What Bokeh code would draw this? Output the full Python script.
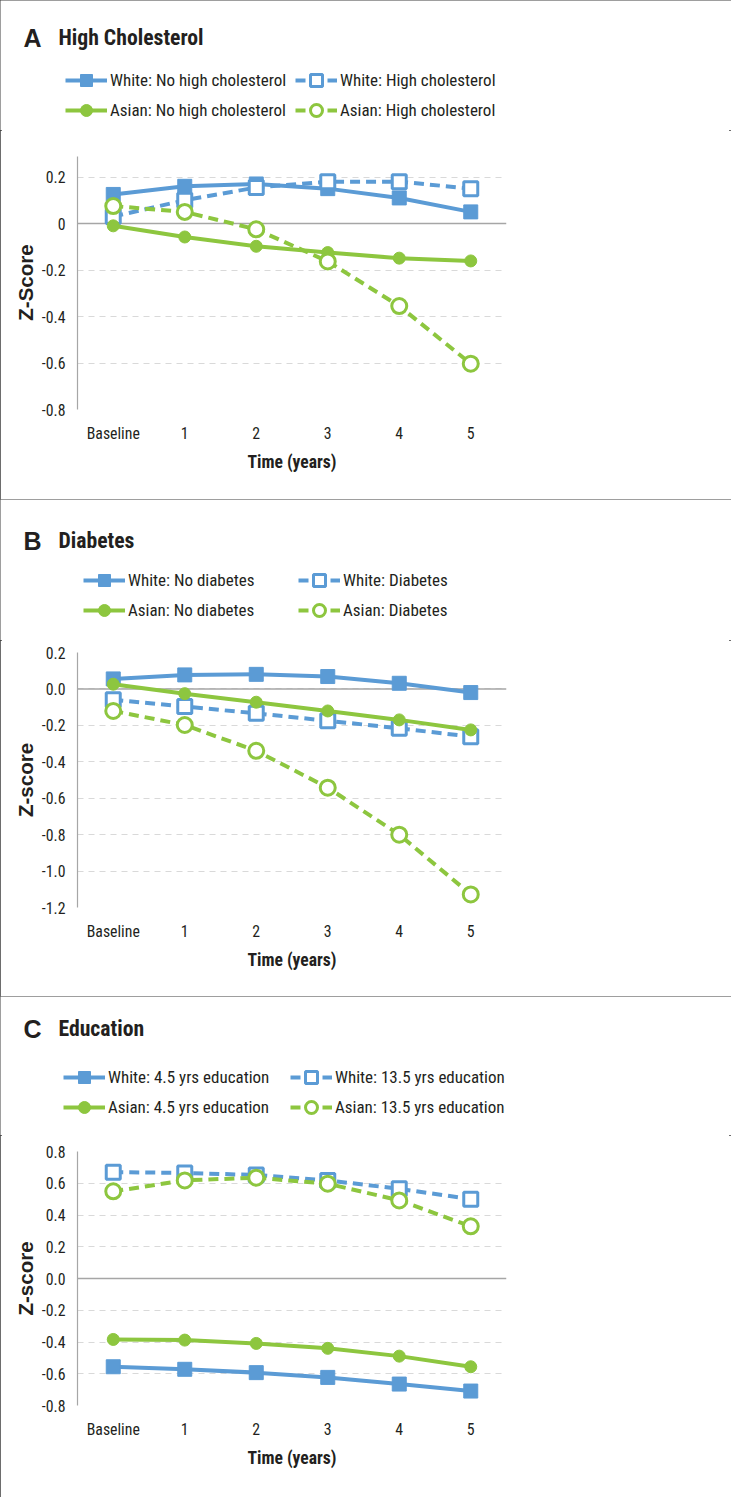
from bokeh.plotting import figure
from bokeh.models import (FactorRange, Range1d, FixedTicker, Legend,
                          LegendItem, Label, PrintfTickFormatter, Span)
from bokeh.layouts import column
from bokeh.embed import file_html
from bokeh.resources import INLINE

# ---------------- data ----------------
time_labels = ["Baseline", "1", "2", "3", "4", "5"]

chol_white_no = [0.125, 0.16, 0.17, 0.15, 0.11, 0.05]
chol_white_high = [0.03, 0.10, 0.155, 0.18, 0.18, 0.15]
chol_asian_no = [-0.01, -0.058, -0.098, -0.125, -0.149, -0.161]
chol_asian_high = [0.075, 0.05, -0.025, -0.163, -0.355, -0.603]

diab_white_no = [0.055, 0.077, 0.08, 0.068, 0.031, -0.02]
diab_white_yes = [-0.06, -0.097, -0.134, -0.175, -0.216, -0.262]
diab_asian_no = [0.026, -0.026, -0.073, -0.121, -0.17, -0.225]
diab_asian_yes = [-0.121, -0.198, -0.34, -0.542, -0.80, -1.128]

edu_white_low = [-0.556, -0.572, -0.593, -0.623, -0.665, -0.709]
edu_white_high = [0.67, 0.665, 0.652, 0.618, 0.565, 0.5]
edu_asian_low = [-0.384, -0.388, -0.409, -0.44, -0.489, -0.556]
edu_asian_high = [0.549, 0.618, 0.635, 0.597, 0.492, 0.329]

ticks_a = [-0.8, -0.6, -0.4, -0.2, 0.0, 0.2]
ticks_b = [-1.2, -1.0, -0.8, -0.6, -0.4, -0.2, 0.0, 0.2]
ticks_c = [-0.8, -0.6, -0.4, -0.2, 0.0, 0.2, 0.4, 0.6, 0.8]

legend_a = ["White: No high cholesterol", "White: High cholesterol",
            "Asian: No high cholesterol", "Asian: High cholesterol"]
legend_b = ["White: No diabetes", "White: Diabetes",
            "Asian: No diabetes", "Asian: Diabetes"]
legend_c = ["White: 4.5 yrs education", "White: 13.5 yrs education",
            "Asian: 4.5 yrs education", "Asian: 13.5 yrs education"]

BLUE = "#5B9BD5"
GREEN = "#8DC63F"
TXT = "#231F20"
NARROW = "Roboto Condensed, Liberation Sans, sans-serif"
SANS = "Liberation Sans, Arial, sans-serif"
W = 731
FRAME_L = 77
FRAME_R = 225

STYLES = [
    (BLUE, None, "square", BLUE, 14, 1),
    (BLUE, "10 6", "square", "white", 14, 3),
    (GREEN, None, "circle", GREEN, 12, 1),
    (GREEN, "10 6", "circle", "white", 15, 3),
]


def draw_series(p, values, visible=True):
    out = []
    for vals, (col, dash, mk, fill, sz, lw) in zip(values, STYLES):
        kw = dict(line_color=col, line_width=4)
        if dash:
            kw["line_dash"] = dash
        lr = p.line(time_labels, vals, **kw)
        sr = p.scatter(time_labels, vals, marker=mk, size=sz, fill_color=fill,
                       line_color=col, line_width=lw)
        lr.visible = visible
        sr.visible = visible
        out.append([lr, sr])
    return out


def make_header(height, letter, title, labels, values, leg_x1, leg_x2, leg_y,
                title_y):
    h = figure(width=W, height=height, x_range=FactorRange(*time_labels),
               y_range=Range1d(10, 11), output_backend="svg",
               toolbar_location=None, x_axis_location=None,
               y_axis_location=None, min_border=0, title=None)
    h.frame_align = False
    h.outline_line_color = None
    h.grid.visible = False
    rends = draw_series(h, values, visible=False)
    items = [LegendItem(label=lab, renderers=r) for lab, r in zip(labels, rends)]
    for cols, lx in ((items[0::2], leg_x1), (items[1::2], leg_x2)):
        leg = Legend(items=cols, location=(lx, leg_y), orientation="vertical",
                     padding=0, margin=0, spacing=-1, glyph_width=42,
                     glyph_height=30, label_height=30, label_standoff=3,
                     border_line_color=None, background_fill_alpha=0,
                     label_text_font=NARROW, label_text_font_size="17px",
                     label_text_color=TXT)
        h.add_layout(leg)
    h.add_layout(Label(x=23, y=title_y, x_units="screen", y_units="screen",
                       text=letter, text_font=SANS, text_font_style="bold",
                       text_font_size="25px", text_color=TXT,
                       text_baseline="middle"))
    h.add_layout(Label(x=58, y=title_y, x_units="screen", y_units="screen",
                       text=title, text_font=NARROW, text_font_style="bold",
                       text_font_size="21.7px", text_color=TXT,
                       text_baseline="middle"))
    return h


def make_plot(height, top, bottom, yr, axis_bounds, ticks, ylab, values):
    p = figure(width=W, height=height, x_range=FactorRange(*time_labels),
               y_range=Range1d(*yr), output_backend="svg",
               toolbar_location=None, min_border_left=FRAME_L,
               min_border_right=FRAME_R, min_border_top=top,
               min_border_bottom=bottom, title=None)
    p.frame_align = False
    p.outline_line_color = None
    p.xgrid.grid_line_color = None
    p.ygrid.ticker = FixedTicker(ticks=ticks)
    p.ygrid.grid_line_color = "#D9D9D9"
    p.ygrid.grid_line_dash = "6 5"
    p.ygrid.grid_line_width = 1

    p.yaxis.ticker = FixedTicker(ticks=ticks)
    p.yaxis.formatter = PrintfTickFormatter(format="%.1f")
    p.yaxis.bounds = axis_bounds
    p.yaxis.axis_line_color = "#A6A6A6"
    p.yaxis.axis_line_width = 1.2
    p.yaxis.major_tick_line_color = None
    p.yaxis.minor_tick_line_color = None
    p.yaxis.major_tick_out = 0
    p.yaxis.major_tick_in = 0
    p.yaxis.minor_tick_out = 0
    p.yaxis.major_label_standoff = 12
    p.yaxis.major_label_text_font = NARROW
    p.yaxis.major_label_text_font_size = "15.8px"
    p.yaxis.major_label_text_color = TXT
    p.yaxis.axis_label = ylab
    p.yaxis.axis_label_text_font = SANS
    p.yaxis.axis_label_text_font_style = "bold"
    p.yaxis.axis_label_text_font_size = "20.5px"
    p.yaxis.axis_label_text_color = TXT
    p.yaxis.axis_label_standoff = 2

    p.xaxis.axis_line_color = None
    p.xaxis.major_tick_line_color = None
    p.xaxis.minor_tick_line_color = None
    p.xaxis.major_tick_out = 0
    p.xaxis.major_tick_in = 0
    p.xaxis.major_label_standoff = 14
    p.xaxis.major_label_text_font = NARROW
    p.xaxis.major_label_text_font_size = "15.8px"
    p.xaxis.major_label_text_color = TXT
    p.xaxis.axis_label = "Time (years)"
    p.xaxis.axis_label_text_font = NARROW
    p.xaxis.axis_label_text_font_style = "bold"
    p.xaxis.axis_label_text_font_size = "17.6px"
    p.xaxis.axis_label_text_color = TXT
    p.xaxis.axis_label_standoff = 6

    # horizontal category axis line crossing at zero
    p.add_layout(Span(location=0, dimension="width", line_color="#A6A6A6",
                      line_width=1.5, level="underlay"))
    draw_series(p, values)
    return p


def panel(header, plot):
    c = column(header, plot, spacing=0)
    c.styles = {"outline": "1px solid #3C3C3C", "outline-offset": "-1px"}
    return c


ha = make_header(130, "A", "High Cholesterol", legend_a,
                 [chol_white_no, chol_white_high, chol_asian_no, chol_asian_high],
                 65, 295, 5, 93)
pa = make_plot(369, 25, 90, (-0.8, 0.2925), (-0.8, 0.29), ticks_a, "Z-Score",
               [chol_white_no, chol_white_high, chol_asian_no, chol_asian_high])
pa.yaxis.major_label_overrides = {0.0: "0"}

hb = make_header(141, "B", "Diabetes", legend_b,
                 [diab_white_no, diab_white_yes, diab_asian_no, diab_asian_yes],
                 83, 298, 15, 100)
pb = make_plot(356, 12, 89, (-1.2, 0.2), (-1.2, 0.2), ticks_b, "Z-score",
               [diab_white_no, diab_white_yes, diab_asian_no, diab_asian_yes])

hc = make_header(139, "C", "Education", legend_c,
                 [edu_white_low, edu_white_high, edu_asian_low, edu_asian_high],
                 63, 290, 13, 107)
pc = make_plot(362, 16, 92, (-0.8, 0.8), (-0.8, 0.8), ticks_c, "Z-score",
               [edu_white_low, edu_white_high, edu_asian_low, edu_asian_high])

layout = column(panel(ha, pa), panel(hb, pb), panel(hc, pc), spacing=0)
layout.styles = {"outline": "2px solid #3C3C3C", "outline-offset": "-2px"}

open("out.html", "w").write(file_html(layout, INLINE))
